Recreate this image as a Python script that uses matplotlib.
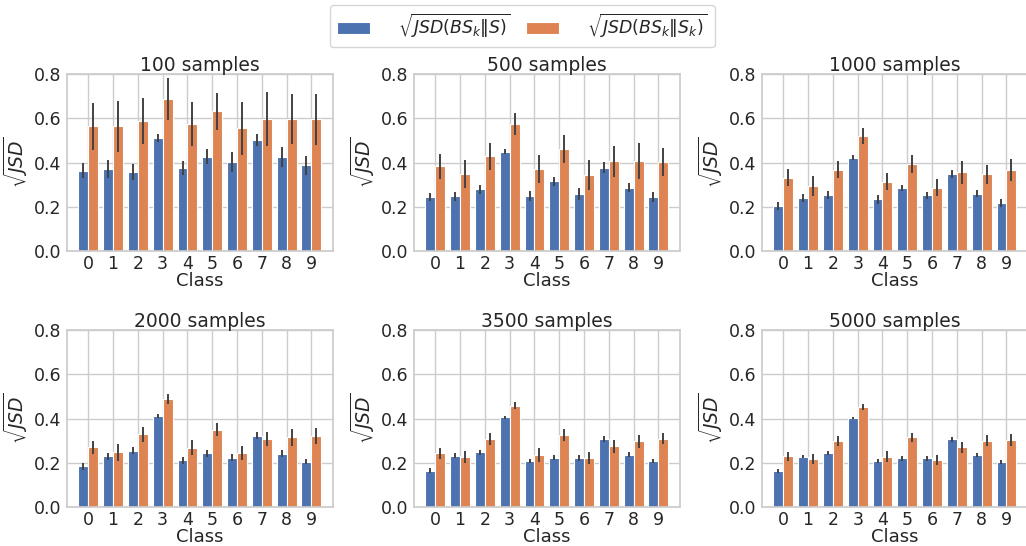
import numpy as np
import matplotlib
matplotlib.use("Agg")
import matplotlib.pyplot as plt
import seaborn as sns

sns.set_theme(style="whitegrid", palette="deep")
plt.rcParams['font.family'] = ['DejaVu Sans']

classes = np.arange(10)
titles = ["100 samples", "500 samples", "1000 samples",
          "2000 samples", "3500 samples", "5000 samples"]

# sqrt(JSD(BS_k || S)) means and error half-widths
s_100 = [0.363, 0.371, 0.357, 0.510, 0.377, 0.427, 0.402, 0.500, 0.425, 0.387]
s_100_err = [0.033, 0.040, 0.036, 0.019, 0.032, 0.033, 0.047, 0.027, 0.044, 0.044]
s_500 = [0.244, 0.247, 0.280, 0.449, 0.250, 0.315, 0.259, 0.377, 0.286, 0.244]
s_500_err = [0.020, 0.022, 0.020, 0.010, 0.023, 0.019, 0.027, 0.024, 0.020, 0.022]
s_1000 = [0.204, 0.239, 0.253, 0.422, 0.233, 0.286, 0.251, 0.348, 0.260, 0.216]
s_1000_err = [0.018, 0.018, 0.019, 0.011, 0.019, 0.014, 0.018, 0.019, 0.015, 0.017]
s_2000 = [0.184, 0.229, 0.255, 0.413, 0.211, 0.243, 0.223, 0.323, 0.242, 0.204]
s_2000_err = [0.017, 0.016, 0.015, 0.009, 0.015, 0.015, 0.015, 0.014, 0.015, 0.011]
s_3500 = [0.165, 0.232, 0.248, 0.406, 0.208, 0.223, 0.222, 0.308, 0.237, 0.208]
s_3500_err = [0.011, 0.012, 0.012, 0.007, 0.010, 0.012, 0.012, 0.012, 0.011, 0.011]
s_5000 = [0.162, 0.228, 0.246, 0.403, 0.207, 0.220, 0.220, 0.306, 0.234, 0.205]
s_5000_err = [0.009, 0.008, 0.009, 0.005, 0.009, 0.011, 0.011, 0.011, 0.009, 0.009]

# sqrt(JSD(BS_k || S_k)) means and error half-widths
sk_100 = [0.564, 0.564, 0.589, 0.687, 0.573, 0.631, 0.555, 0.596, 0.598, 0.595]
sk_100_err = [0.107, 0.115, 0.103, 0.094, 0.099, 0.082, 0.120, 0.122, 0.112, 0.117]
sk_500 = [0.383, 0.348, 0.428, 0.575, 0.371, 0.460, 0.343, 0.405, 0.408, 0.402]
sk_500_err = [0.057, 0.065, 0.062, 0.051, 0.062, 0.063, 0.067, 0.070, 0.081, 0.062]
sk_1000 = [0.331, 0.295, 0.368, 0.520, 0.313, 0.393, 0.287, 0.355, 0.348, 0.366]
sk_1000_err = [0.039, 0.045, 0.039, 0.034, 0.038, 0.042, 0.038, 0.051, 0.043, 0.051]
sk_2000 = [0.270, 0.248, 0.328, 0.488, 0.267, 0.350, 0.245, 0.309, 0.315, 0.322]
sk_2000_err = [0.030, 0.039, 0.033, 0.022, 0.034, 0.029, 0.033, 0.032, 0.037, 0.036]
sk_3500 = [0.243, 0.226, 0.306, 0.459, 0.237, 0.325, 0.222, 0.275, 0.297, 0.309]
sk_3500_err = [0.026, 0.029, 0.027, 0.018, 0.032, 0.026, 0.026, 0.030, 0.029, 0.026]
sk_5000 = [0.229, 0.219, 0.299, 0.451, 0.228, 0.315, 0.213, 0.270, 0.300, 0.303]
sk_5000_err = [0.021, 0.023, 0.023, 0.014, 0.024, 0.021, 0.024, 0.024, 0.026, 0.026]

blue_vals = [s_100, s_500, s_1000, s_2000, s_3500, s_5000]
blue_errs = [s_100_err, s_500_err, s_1000_err, s_2000_err, s_3500_err, s_5000_err]
orange_vals = [sk_100, sk_500, sk_1000, sk_2000, sk_3500, sk_5000]
orange_errs = [sk_100_err, sk_500_err, sk_1000_err, sk_2000_err, sk_3500_err, sk_5000_err]

label_s = r"$\sqrt{JSD(BS_k\Vert S)}$"
label_sk = r"$\sqrt{JSD(BS_k\Vert S_k)}$"
blue, orange = "#4C72B0", "#DD8452"

fig = plt.figure(figsize=(10.26, 5.46), dpi=100)
lefts = [0.0653, 0.4035, 0.7427]
bottoms = [0.5403, 0.0714]
w, h = 0.259, 0.324

for i in range(6):
    ax = fig.add_axes([lefts[i % 3], bottoms[i // 3], w, h])
    ax.bar(classes - 0.2, blue_vals[i], width=0.4, color=blue,
           edgecolor="white", linewidth=0.8, label=label_s)
    ax.bar(classes + 0.2, orange_vals[i], width=0.4, color=orange,
           edgecolor="white", linewidth=0.8, label=label_sk)
    ax.errorbar(classes - 0.2, blue_vals[i], yerr=blue_errs[i], fmt="none",
                ecolor="0.26", elinewidth=1.4)
    ax.errorbar(classes + 0.2, orange_vals[i], yerr=orange_errs[i], fmt="none",
                ecolor="0.26", elinewidth=1.4)
    ax.set_ylim(0, 0.8)
    ax.set_yticks([0.0, 0.2, 0.4, 0.6, 0.8])
    ax.set_xlim(-0.86, 9.86)
    ax.set_xticks(classes)
    ax.tick_params(axis="y", labelsize=12.5, length=0, pad=4)
    ax.tick_params(axis="x", labelsize=12.5, length=0, pad=3)
    ax.set_title(titles[i], fontsize=13.5, pad=2)
    ax.set_xlabel("Class", fontsize=13, labelpad=-1)
    ax.set_ylabel(r"$\sqrt{JSD}$", fontsize=13.5, labelpad=3)
    if i == 0:
        handles, labels = ax.get_legend_handles_labels()

fig.legend(handles, labels, loc="upper center", bbox_to_anchor=(0.509, 1.0),
           ncol=2, fontsize=12.5, handletextpad=1.65, handlelength=1.9,
           columnspacing=0.85, borderaxespad=0.3,
           frameon=True, edgecolor="0.8")

fig.savefig("out.png", dpi=100)
